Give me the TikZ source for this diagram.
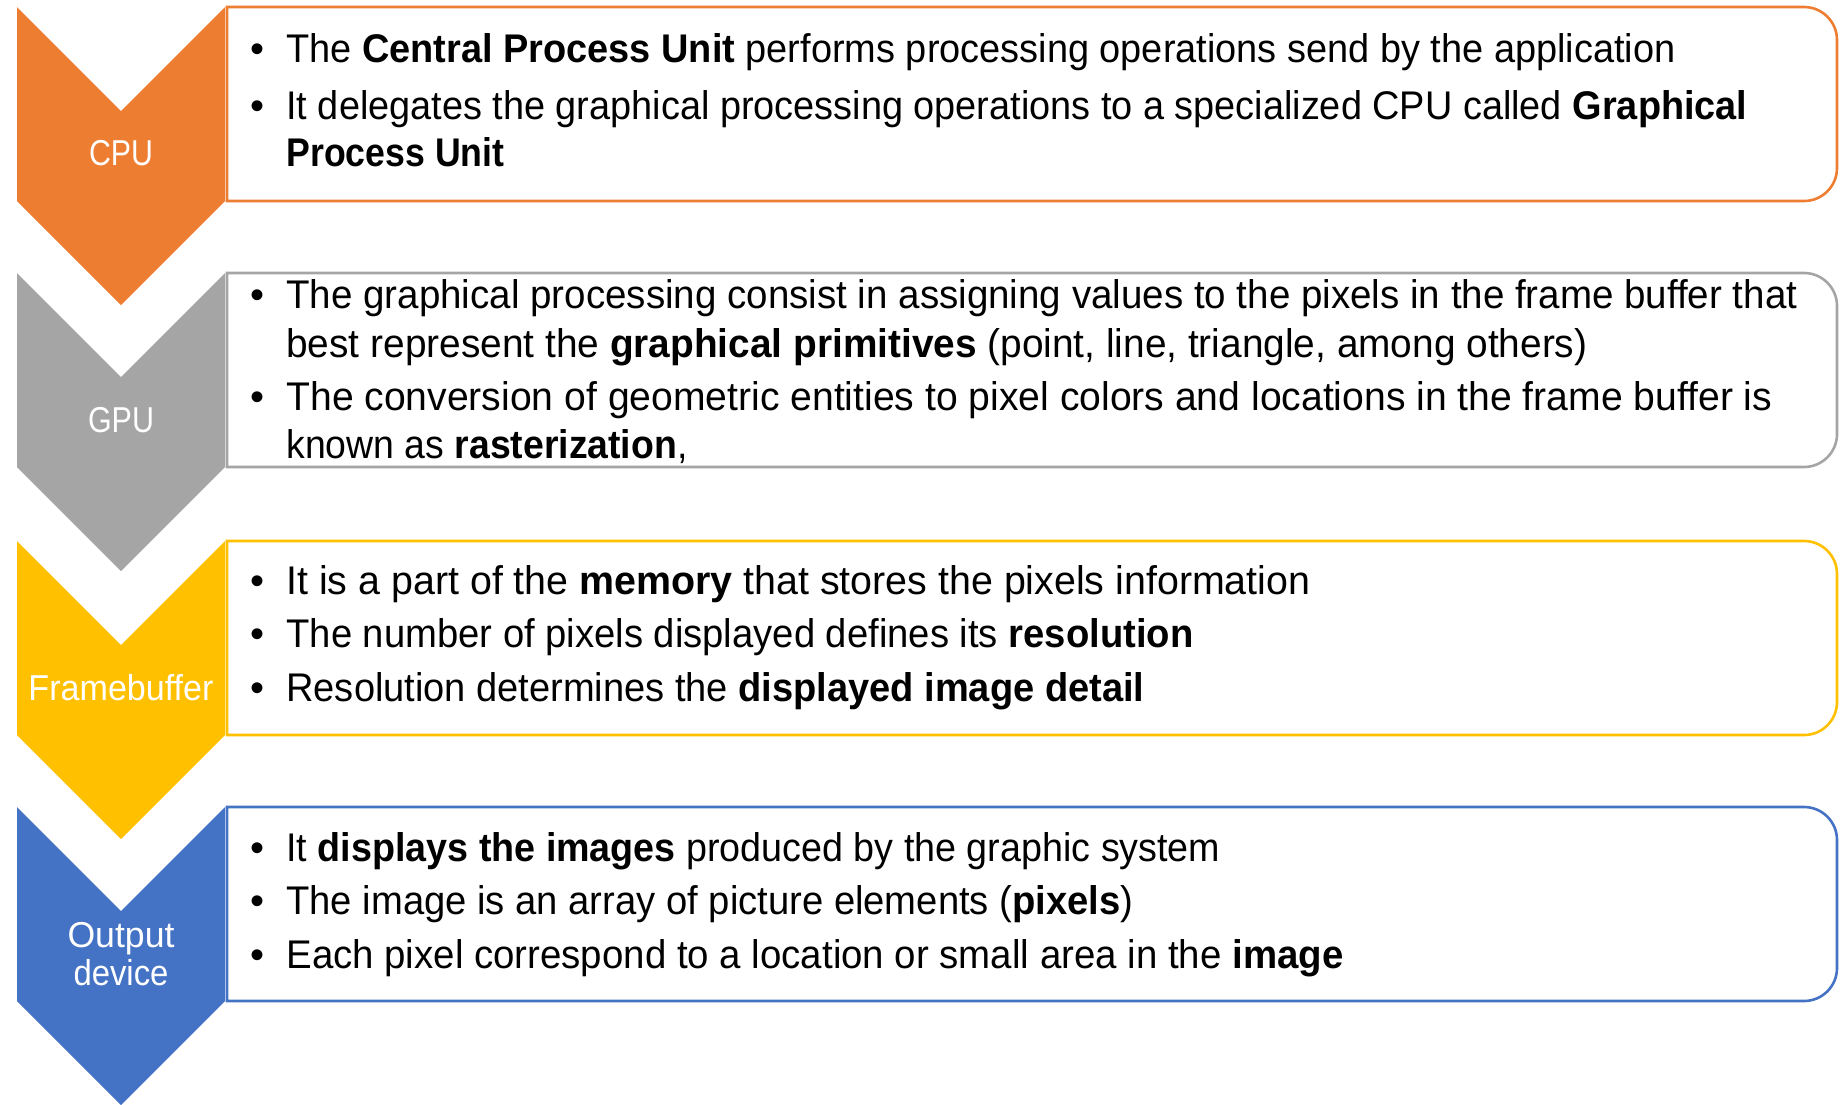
\documentclass[tikz,border=0pt]{standalone}
\usepackage{fontspec}
\setmainfont{Liberation Sans}
\usepackage{graphicx}
\definecolor{cOrange}{HTML}{ED7D31}
\definecolor{cGray}{HTML}{A5A5A5}
\definecolor{cYellow}{HTML}{FFC000}
\definecolor{cBlue}{HTML}{4472C4}
\newcommand{\fitw}[2]{\resizebox{#1}{\height}{#2}}
\begin{document}
\begin{tikzpicture}[x=0.5pt,y=-0.5pt,
  txt/.style={anchor=base west,inner sep=0pt,font=\fontsize{20pt}{24pt}\selectfont},
  bul/.style={anchor=base,inner sep=0pt,font=\fontsize{20pt}{24pt}\selectfont},
  lab/.style={anchor=base,inner sep=0pt,text=white,font=\fontsize{18pt}{22pt}\selectfont},
  boxline/.style={line width=1.3pt,fill=white}]
\path[use as bounding box] (0,0) rectangle (1847,1104);
\foreach \T/\col in {7/cOrange,273/cGray,541/cYellow,807/cBlue}{
  \draw[boxline,draw=\col] (227,\T) -- (1804,\T) arc[start angle=90,end angle=0,radius=16.5pt]
     -- (1837,\T+161) arc[start angle=0,end angle=-90,radius=16.5pt] -- (227,\T+194) -- cycle;
  \fill[\col] (17,\T) -- (121,\T+104) -- (225,\T) -- (225,\T+194) -- (121,\T+298) -- (17,\T+194) -- cycle;
}
% labels
\node[lab] (lcpu) at (121,165) {\fitw{32pt}{CPU}};
\node[lab] (lgpu) at (121,432) {\fitw{33pt}{GPU}};
\node[lab] (lfb) at (121,700) {\fitw{92.5pt}{Framebuffer}};
\node[lab] (lout1) at (121,947) {\fitw{53.5pt}{Output}};
\node[lab] (lout2) at (121,985) {\fitw{47.5pt}{device}};
% CPU text
\node[bul] (b11) at (257,62) {\textbullet};
\node[txt] (t11) at (286,62) {\fitw{694.5pt}{The \textbf{Central Process Unit} performs processing operations send by the application}};
\node[bul] (b12) at (257,119) {\textbullet};
\node[txt] (t12) at (286,119) {\fitw{730.5pt}{It delegates the graphical processing operations to a specialized CPU called \textbf{Graphical}}};
\node[txt] (t13) at (286,166) {\fitw{109pt}{\textbf{Process Unit}}};
% GPU text
\node[bul] (b21) at (257,308) {\textbullet};
\node[txt] (t21) at (286,308) {\fitw{755.5pt}{The graphical processing consist in assigning values to the pixels in the frame buffer that}};
\node[txt] (t22) at (286,357) {\fitw{650.5pt}{best represent the \textbf{graphical primitives} (point, line, triangle, among others)}};
\node[bul] (b23) at (257,410) {\textbullet};
\node[txt] (t23) at (286,410) {\fitw{743pt}{The conversion of geometric entities to pixel colors and locations in the frame buffer is}};
\node[txt] (t24) at (286,458) {\fitw{200.5pt}{known as \textbf{rasterization},}};
% Framebuffer text
\node[bul] (b31) at (257,594) {\textbullet};
\node[txt] (t31) at (286,594) {\fitw{512pt}{It is a part of the \textbf{memory} that stores the pixels information}};
\node[bul] (b32) at (257,647) {\textbullet};
\node[txt] (t32) at (286,647) {\fitw{453.5pt}{The number of pixels displayed defines its \textbf{resolution}}};
\node[bul] (b33) at (257,701) {\textbullet};
\node[txt] (t33) at (286,701) {\fitw{429pt}{Resolution determines the \textbf{displayed image detail}}};
% Output device text
\node[bul] (b41) at (257,861) {\textbullet};
\node[txt] (t41) at (286,861) {\fitw{467pt}{It \textbf{displays the images} produced by the graphic system}};
\node[bul] (b42) at (257,914) {\textbullet};
\node[txt] (t42) at (286,914) {\fitw{423.5pt}{The image is an array of picture elements (\textbf{pixels})}};
\node[bul] (b43) at (257,968) {\textbullet};
\node[txt] (t43) at (286,968) {\fitw{528.5pt}{Each pixel correspond to a location or small area in the \textbf{image}}};
\end{tikzpicture}
\end{document}
